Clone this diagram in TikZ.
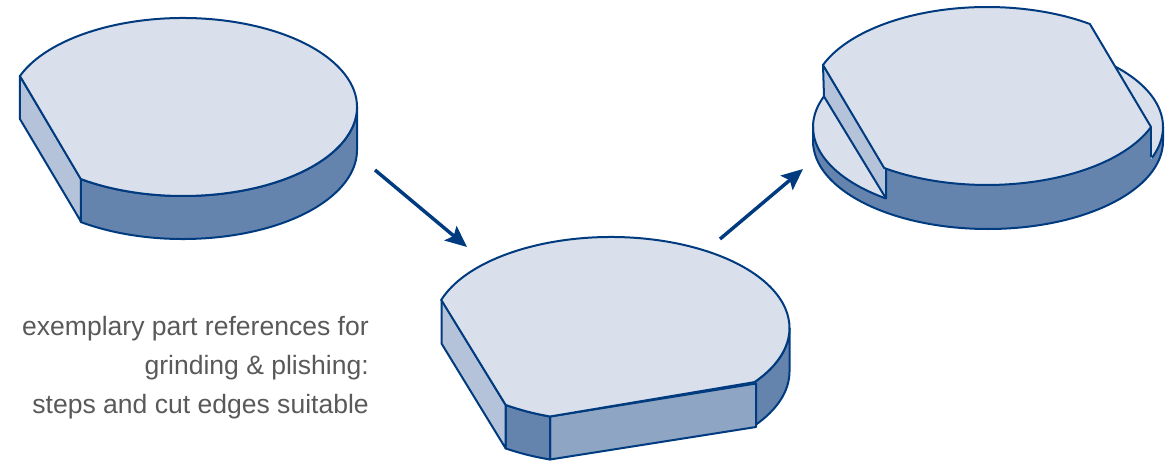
\documentclass[tikz,border=0pt]{standalone}
\usepackage{fontspec}
\setmainfont{Liberation Sans}
\usetikzlibrary{arrows.meta}
\definecolor{edgeblue}{HTML}{003A7F}
\definecolor{topface}{HTML}{DAE0EB}
\definecolor{darkface}{HTML}{6484AE}
\definecolor{midface}{HTML}{8EA5C3}
\definecolor{lightface}{HTML}{B4C3D9}
\definecolor{notegrey}{HTML}{595959}
\tikzset{
	outline/.style={draw=edgeblue,line width=1.5pt,line join=round},
	flow/.style={draw=edgeblue,line width=2.6pt,-{Stealth[length=16pt,width=14pt,inset=3pt]}},
	note/.style={font=\fontsize{19.9}{29}\selectfont,text=notegrey,align=right,inner sep=0pt},
	radiiA/.style={x radius=174,y radius=89},
	radiiB/.style={x radius=178.5,y radius=91},
	radiiC/.style={x radius=175,y radius=89},
	radiiD/.style={x radius=175,y radius=88}
}
\begin{document}
\begin{tikzpicture}[x=0.75pt,y=-0.75pt]
	\useasboundingbox (0,0) rectangle (1176,460);

	\draw[outline,fill=darkface] (183,107) ++(0:174 and 89) arc[radiiA,start angle=0,end angle=126] -- ++(0,43) arc[radiiA,start angle=126,end angle=0] -- cycle;
	\draw[outline,fill=lightface] (183,107) ++(200.4:174 and 89) -- ++(61,102.5) -- ++(0,43) -- ++(-61,-102.5) -- cycle;
	\draw[outline,fill=topface] (183,107) ++(200.4:174 and 89) arc[radiiA,start angle=200.4,end angle=486] -- cycle;

	\draw[outline,fill=darkface] (611,328) ++(0:178.5 and 91) arc[radiiB,start angle=0,end angle=36.5] -- ++(0,43.5) arc[radiiB,start angle=36.5,end angle=0] -- cycle;
	\draw[outline,fill=midface] (756,383.5) -- (550,416.5) -- (550,459.5) -- (756,427) -- cycle;
	\draw[outline,fill=darkface] (505.7,405) to[bend right=4] (550,416.5) -- (550,459.5) to[bend left=4] (505.7,448.5) -- cycle;
	\draw[outline,fill=lightface] (441.5,299.5) -- (505.7,405) -- (505.7,448.5) -- (441.5,343.5) -- cycle;
	\draw[outline,fill=topface] (611,328) ++(198:178.5 and 91) arc[radiiB,start angle=198,end angle=396.5] -- (550,416.5) to[bend left=4] (505.7,405) -- cycle;

	\fill[darkface] (988,127) ++(0:175 and 88) arc[radiiD,start angle=0,end angle=180] -- ++(0,14) arc[radiiD,start angle=180,end angle=0] -- cycle;
	\fill[topface] (988,127) ellipse[radiiD];
	\fill[darkface] (987,96) ++(20.4:175 and 89) arc[radiiC,start angle=20.4,end angle=126] -- ++(0,33) arc[radiiD,start angle=126,end angle=20.4] -- cycle;
	\draw[outline] (988,127) ++(0:175 and 88) -- ++(0,14) arc[radiiD,start angle=0,end angle=180] -- ++(0,-14);
	\draw[outline] (988,127) ++(126:175 and 88) arc[radiiD,start angle=126,end angle=200.4];
	\draw[outline] (988,127) ++(-43.2:175 and 88) arc[radiiD,start angle=-43.2,end angle=20.4];
	\draw[outline] (987,96) ++(20.4:175 and 89) -- ++(0,30);
	\draw[outline,fill=lightface] (987,96) ++(200.4:175 and 89) -- (886,168.5) -- ++(0,30) -- (824,96.5) -- cycle;
	\draw[outline,fill=topface] (987,96) ++(200.4:175 and 89) arc[radiiC,start angle=200.4,end angle=306] -- (1151,127) arc[radiiC,start angle=380.4,end angle=486] -- cycle;

	\coordinate (flowAstart) at (375,170);
	\coordinate (flowAend) at (467,247);
	\coordinate (flowBstart) at (720,239);
	\coordinate (flowBend) at (803,169);
	\draw[flow] (flowAstart) -- (flowAend);
	\draw[flow] (flowBstart) -- (flowBend);

	\node[note,anchor=east] (noteText) at (369,367.5) {exemplary part references for\\grinding \& plishing:\\steps and cut edges suitable};
\end{tikzpicture}
\end{document}
